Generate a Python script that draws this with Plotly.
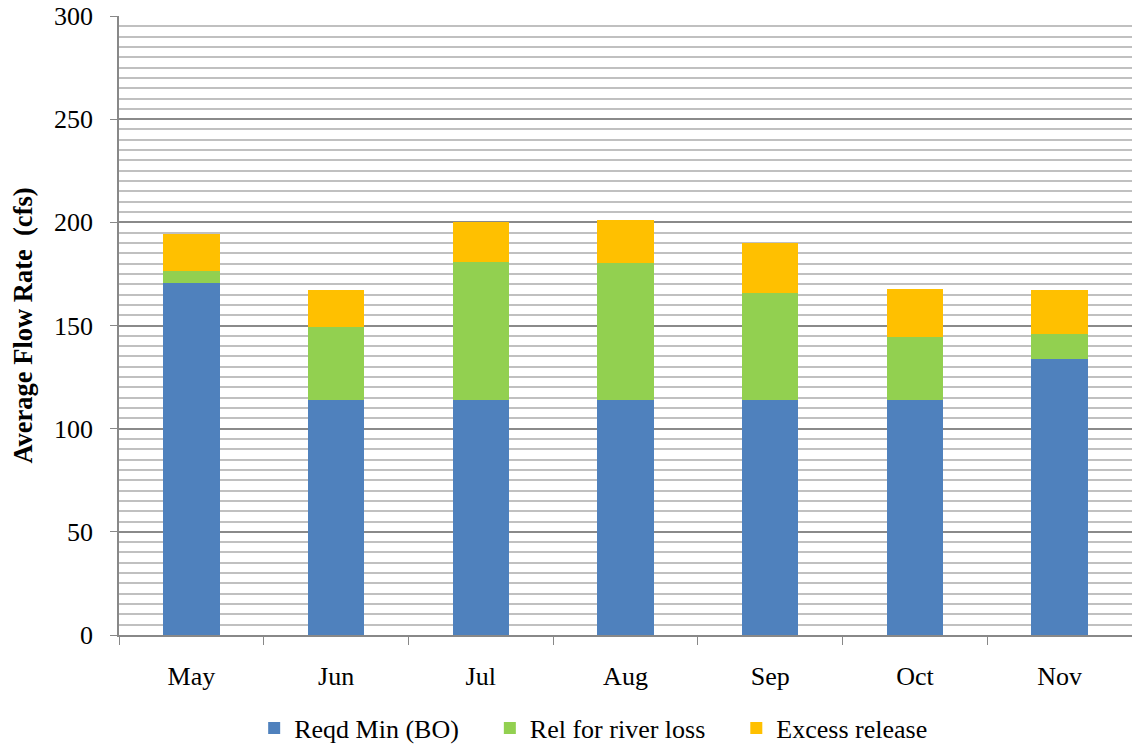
import plotly.graph_objects as go

months = ["May", "Jun", "Jul", "Aug", "Sep", "Oct", "Nov"]
reqd_min = [170.5, 114, 114, 114, 114, 114, 134]
river_loss = [5.8, 35.5, 67, 66.5, 51.8, 30.5, 12]
excess = [18, 17.7, 19.2, 20.8, 24, 23, 21.3]

names = ["Reqd Min (BO)", "Rel for river loss", "Excess release"]
colors = ["#4F81BD", "#92D050", "#FFC000"]
values = [reqd_min, river_loss, excess]

pad = "\u00a0" * 4
fig = go.Figure()
for i, (name, vals, col) in enumerate(zip(names, values, colors)):
    label = name + (pad if i < len(names) - 1 else "")
    fig.add_trace(go.Bar(x=months, y=vals, name=label, marker=dict(color=col, line=dict(width=0))))

ff = "Liberation Serif"
fig.update_layout(
    barmode="stack",
    bargap=0.61,
    width=1132, height=749,
    margin=dict(l=119, r=0, t=16, b=114, autoexpand=False),
    plot_bgcolor="white", paper_bgcolor="white",
    font=dict(family=ff, size=26, color="black"),
    legend=dict(orientation="h", x=0.524, xanchor="center", xref="container",
                y=0.028, yanchor="middle", yref="container",
                font=dict(family=ff, size=26, color="black"),
                tracegroupgap=0, traceorder="normal"),
    xaxis=dict(showline=True, linecolor="#888888", linewidth=1.5, ticks="outside", ticklen=8,
               tickcolor="#888888", tickson="boundaries", tickfont=dict(family=ff, size=26),
               ticklabelstandoff=17, showgrid=False, automargin=False),
    yaxis=dict(range=[0, 300], dtick=50, showline=True, linecolor="#888888", linewidth=1.5,
               ticks="outside", ticklen=7, tickcolor="#888888", tickfont=dict(family=ff, size=26),
               ticklabelstandoff=12, automargin=False,
               showgrid=True, gridcolor="#8a8a8a", gridwidth=1.5, zeroline=False,
               minor=dict(dtick=5, showgrid=True, gridcolor="#c0c0c0", gridwidth=1.5),
               title=dict(text="<b>Average Flow Rate  (cfs)</b>", font=dict(family=ff, size=26.5), standoff=14)),
)

fig.write_html("out.html")
